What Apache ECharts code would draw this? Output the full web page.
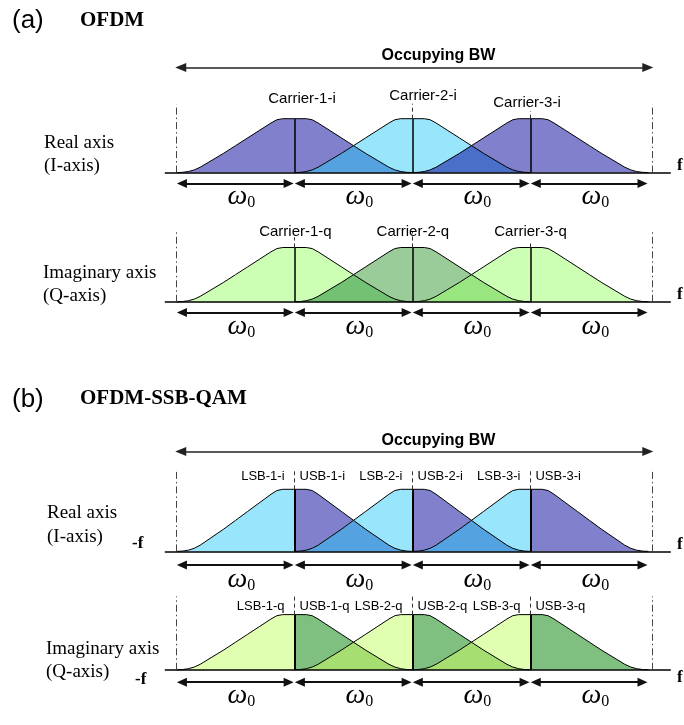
<!DOCTYPE html>
<html><head><meta charset="utf-8">
<script src="https://cdn.jsdelivr.net/npm/echarts@6/dist/echarts.min.js"></script>
<style>html,body{margin:0;padding:0;background:#fff}#c{width:684px;height:725px}</style>
</head><body><div id="c"></div>
<script>
// ---------------- data ----------------
// spectral shape of one sub-carrier (offset in units of w0, relative height)
const pulseOffsets = [-1.0, -0.95, -0.9, -0.85, -0.8, -0.7, -0.6, -0.5, -0.4, -0.3, -0.25, -0.2, -0.15, -0.1, 0, 0.1, 0.15, 0.2, 0.25, 0.3, 0.4, 0.5, 0.6, 0.7, 0.8, 0.85, 0.9, 0.95, 1.0];
const pulseHeights = [0, 0.005, 0.02, 0.05, 0.1, 0.23, 0.36, 0.5, 0.64, 0.78, 0.85, 0.92, 0.98, 1.0, 1.0, 1.0, 0.98, 0.92, 0.85, 0.78, 0.64, 0.5, 0.36, 0.23, 0.1, 0.05, 0.02, 0.005, 0];
const carrierCenters = [1, 2, 3];
const bandEdges = [0, 1, 2, 3, 4];
const rightMarker = 4.03;
const ofdmLabelsI = ['Carrier-1-i', 'Carrier-2-i', 'Carrier-3-i'];
const ofdmLabelsQ = ['Carrier-1-q', 'Carrier-2-q', 'Carrier-3-q'];
const lsbLabelsI = ['LSB-1-i', 'LSB-2-i', 'LSB-3-i'];
const usbLabelsI = ['USB-1-i', 'USB-2-i', 'USB-3-i'];
const lsbLabelsQ = ['LSB-1-q', 'LSB-2-q', 'LSB-3-q'];
const usbLabelsQ = ['USB-1-q', 'USB-2-q', 'USB-3-q'];
const spacingSymbol = 'ω';
const spacingSub = '0';
const bandwidthLabel = 'Occupying BW';

// ---------------- layout ----------------
const X0 = 176.6, UNIT = 117.95, XMIN = -0.1, XMAX = 4.19, YMIN = -1, YMAX = 2.2;
const xOf = px => (px - X0) / UNIT;
const panels = [
  {base:172.6, scale:53.9, mode:'ofdm', fills:['#8080cc','#99e5fb','#8080cc'], overlaps:['#55a2e0','#4a6fc8'],
   names:ofdmLabelsI, labelPx:[[302,99.2],[423,95.8],[527,102.7]], dashTopPx:[null,103.7,111.2], edgeTopPx:104.4,
   bwArrowPx:67.5, bwTextPx:56, omegaArrowPx:183.5, omegaTextPx:197, labelSize:15, centerW:1.5},
  {base:301.8, scale:54.3, mode:'ofdm', fills:['#ccffb3','#99cc99','#ccffb3'], overlaps:['#73c173','#99e680'],
   names:ofdmLabelsQ, labelPx:[[295.4,232.2],[412.8,232.2],[530.5,232.2]], dashTopPx:[237.3,231,241.4], edgeTopPx:232,
   omegaArrowPx:312.4, omegaTextPx:327, labelSize:15, centerW:1.5},
  {base:551.4, scale:62.1, mode:'ssb', lsb:'#99e5fb', usb:'#8080cc', overlaps:['#55a2e0','#55a2e0'],
   lsbNames:lsbLabelsI, usbNames:usbLabelsI, labelYPx:476.3, dashTopPx:[471.2,471.2,471.2], edgeTopPx:471.2,
   bwArrowPx:451.4, bwTextPx:440.5, omegaArrowPx:565, omegaTextPx:580, labelSize:13, centerW:2},
  {base:685, scale:62.1, mode:'ssb', lsb:'#e0ffb0', usb:'#7fbf80', overlaps:['#a6de72','#a6de72'],
   lsbNames:lsbLabelsQ, usbNames:usbLabelsQ, labelYPx:613.7, dashTopPx:[602.4,602.4,602.4], edgeTopPx:602.4,
   omegaArrowPx:699, omegaTextPx:714, labelSize:13, centerW:2}
];

function interp(o) {
  for (let i = 0; i < pulseOffsets.length - 1; i++) {
    const a = pulseOffsets[i], b = pulseOffsets[i + 1];
    if (o >= a && o <= b) { const t = (o - a) / (b - a); return pulseHeights[i] + t * (pulseHeights[i + 1] - pulseHeights[i]); }
  }
  return 0;
}
function pulse(c, part) {
  const out = [];
  pulseOffsets.forEach((o, i) => {
    if (part === 'full' || (part === 'lsb' && o <= 0) || (part === 'usb' && o >= 0)) out.push([c + o, pulseHeights[i]]);
  });
  return out;
}
function overlap(c) { // region under both pulse c and pulse c+1
  const pts = [];
  pulseOffsets.forEach((o, i) => { if (o < -0.5) pts.push([c + 1 + o, pulseHeights[i]]); });
  pts.push([c + 0.5, interp(0.5)]);
  pulseOffsets.forEach((o, i) => { if (o > 0.5) pts.push([c + o, pulseHeights[i]]); });
  return pts;
}

const grids = [], xAxes = [], yAxes = [], series = [];
const SANS = '"Liberation Sans", Arial, sans-serif';
const SERIF = '"Liberation Serif", "Times New Roman", serif';

panels.forEach((p, gi) => {
  const yv = py => (p.base - py) / p.scale;
  grids.push({left: X0 + XMIN * UNIT, width: (XMAX - XMIN) * UNIT, top: p.base - YMAX * p.scale, height: (YMAX - YMIN) * p.scale});
  xAxes.push({type:'value', gridIndex:gi, min:XMIN, max:XMAX, show:false});
  yAxes.push({type:'value', gridIndex:gi, min:YMIN, max:YMAX, show:false});
  const base = {xAxisIndex:gi, yAxisIndex:gi, silent:true, animation:false};
  const fill = (data, color, z) => Object.assign({}, base, {type:'line', data, symbol:'none', showSymbol:false,
    lineStyle:{width:0, opacity:0}, areaStyle:{color, opacity:1}, z});
  if (p.mode === 'ofdm') {
    carrierCenters.forEach((c, k) => series.push(fill(pulse(c, 'full'), p.fills[k], 1)));
  } else {
    carrierCenters.forEach(c => { series.push(fill(pulse(c, 'lsb'), p.lsb, 1)); series.push(fill(pulse(c, 'usb'), p.usb, 1)); });
  }
  carrierCenters.slice(0, -1).forEach((c, k) => series.push(fill(overlap(c), p.overlaps[k], 2)));
  carrierCenters.forEach(c => series.push(Object.assign({}, base, {type:'line', data:pulse(c, 'full'), symbol:'none', showSymbol:false,
    lineStyle:{color:'#000', width:1}, z:3})));

  const mk = (data, lineStyle, symbol, symbolSize) => Object.assign({}, base, {type:'line', data:[], z:4,
    markLine:{silent:true, animation:false, symbol, symbolSize: symbolSize || 1, label:{show:false}, lineStyle, data}});
  const pt = (x, y) => ({coord:[x, y]});
  series.push(mk([[pt(XMIN, 0), pt(XMAX, 0)]], {color:'#000', width:1.5, type:'solid'}, ['none','none']));
  series.push(mk(carrierCenters.map(c => [pt(c, 0), pt(c, 1)]), {color:'#000', width:p.centerW, type:'solid'}, ['none','none']));
  const dashData = [];
  carrierCenters.forEach((c, k) => { if (p.dashTopPx[k] != null) dashData.push([pt(c, 1), pt(c, yv(p.dashTopPx[k]))]); });
  series.push(mk(dashData, {color:'#333', width:1, type:[4, 3]}, ['none','none']));
  series.push(mk([[pt(bandEdges[0], 0), pt(bandEdges[0], yv(p.edgeTopPx))], [pt(rightMarker, 0), pt(rightMarker, yv(p.edgeTopPx))]],
    {color:'#444', width:1, type:[7, 3, 1.5, 3]}, ['none','none']));
  const ay = yv(p.omegaArrowPx);
  series.push(mk(bandEdges.slice(0, -1).map((e, i) => [pt(e + 0.045, ay), pt(bandEdges[i + 1] - 0.05, ay)]),
    {color:'#111', width:1.8, type:'solid'}, ['triangle','triangle'], [9, 10]));
  if (p.bwArrowPx) {
    const by = yv(p.bwArrowPx);
    series.push(mk([[pt(bandEdges[0] + 0.035, by), pt(rightMarker - 0.035, by)]], {color:'#222', width:1.5, type:'solid'}, ['triangle','triangle'], [9, 11]));
  }

  // text marks
  const items = [];
  const lab = (x, y, text, align, size, weight) => items.push({value:[x, y], label:{show:true, position:'inside', formatter:() => text,
    align, verticalAlign:'middle', fontSize:size, fontFamily:SANS, fontWeight:weight || 'normal', color:'#000', opacity:1}});
  if (p.mode === 'ofdm') {
    p.names.forEach((n, k) => lab(xOf(p.labelPx[k][0]), yv(p.labelPx[k][1]), n, 'center', p.labelSize));
  } else {
    carrierCenters.forEach((c, k) => {
      lab(c - 10 / UNIT, yv(p.labelYPx), p.lsbNames[k], 'right', p.labelSize);
      lab(c + 5 / UNIT, yv(p.labelYPx), p.usbNames[k], 'left', p.labelSize);
    });
  }
  if (p.bwTextPx) lab(xOf(438.5), yv(p.bwTextPx), bandwidthLabel, 'center', 16, 'bold');
  bandEdges.slice(0, -1).forEach((e, i) => items.push({value:[(e + bandEdges[i + 1]) / 2 + 0.05, yv(p.omegaTextPx)],
    label:{show:true, position:'inside', align:'center', verticalAlign:'middle', opacity:1,
      formatter:() => '{w|' + spacingSymbol + '}{s|' + spacingSub + '}',
      rich:{w:{fontFamily:SERIF, fontStyle:'italic', fontSize:28, lineHeight:28, color:'#000'},
            s:{fontFamily:SERIF, fontSize:16, lineHeight:16, verticalAlign:'bottom', color:'#000'}}}}));
  series.push(Object.assign({}, base, {type:'scatter', symbolSize:1, itemStyle:{color:'rgba(0,0,0,0)', opacity:1}, data:items, z:6}));
});

const T = (text, x, y, font) => ({type:'text', x, y, silent:true, z:10,
  style:{text, font, fill:'#000', verticalAlign:'middle', align:'left'}});
const graphic = [
  T('(a)', 12, 21, '26px ' + SANS),
  T('OFDM', 80, 21, 'bold 21px ' + SERIF),
  T('Real axis', 44, 143.3, '19px ' + SERIF),
  T('(I-axis)', 44, 165.7, '19px ' + SERIF),
  T('Imaginary axis', 43, 273.3, '19px ' + SERIF),
  T('(Q-axis)', 43, 296, '19px ' + SERIF),
  T('(b)', 12, 400, '26px ' + SANS),
  T('OFDM-SSB-QAM', 80, 399, 'bold 21px ' + SERIF),
  T('Real axis', 47, 513.3, '19px ' + SERIF),
  T('(I-axis)', 47, 536.7, '19px ' + SERIF),
  T('-f', 132, 543.5, 'bold 17px ' + SERIF),
  T('Imaginary axis', 46, 649.3, '19px ' + SERIF),
  T('(Q-axis)', 46, 671.7, '19px ' + SERIF),
  T('-f', 135, 679.5, 'bold 17px ' + SERIF)
];
panels.forEach(p => graphic.push(T('f', 677, p.base - 7, 'bold 17px ' + SERIF)));

const chart = echarts.init(document.getElementById('c'), null, {renderer:'canvas'});
chart.setOption({animation:false, backgroundColor:'#fff', grid:grids, xAxis:xAxes, yAxis:yAxes, series, graphic});
</script>
</body></html>
